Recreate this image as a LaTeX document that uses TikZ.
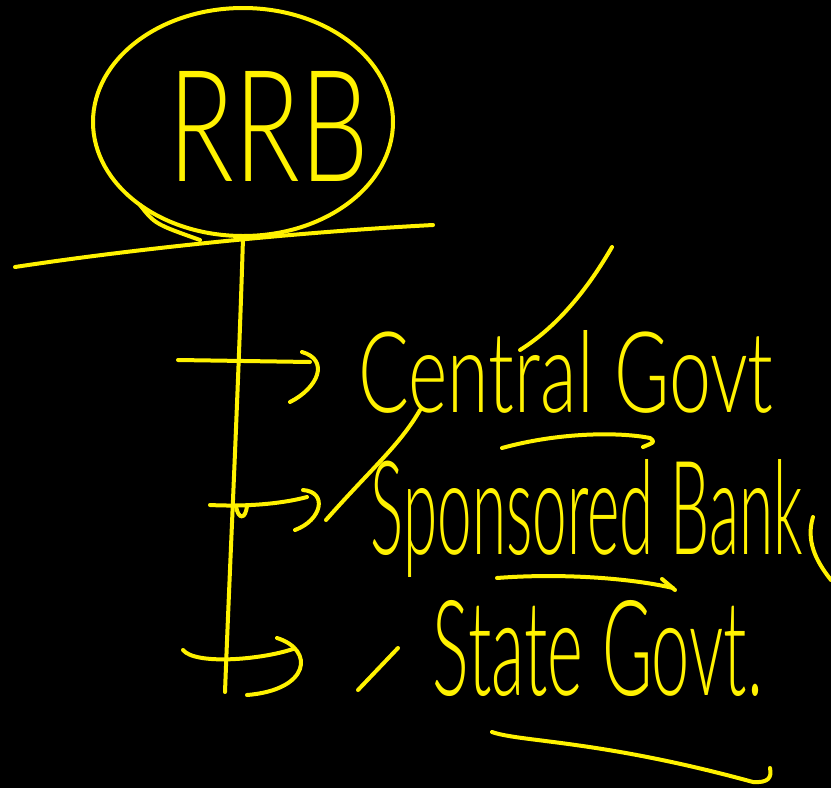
\documentclass[tikz,border=0pt]{standalone}
\usepackage{fontspec}
\setmainfont{Lato Light}
\usetikzlibrary{shapes.geometric}
\definecolor{penc}{RGB}{255,242,0}
\begin{document}
\begin{tikzpicture}[x=1pt,y=-1pt,
  pen/.style={draw=penc, line width=4pt, line cap=round, line join=round},
  hand/.style={text=penc, inner sep=0pt}]
\fill[black] (0,0) rectangle (831,788);
\useasboundingbox (0,0) rectangle (831,788);
% RRB
\node[pen, ellipse, minimum width=300pt, minimum height=228pt, inner sep=0pt] (rrb) at (243,122) {};
\node[hand] (rrbtext) at (269,126) {\resizebox{200pt}{110pt}{RRB}};
\draw[pen] (140,205) .. controls (155,224) .. (200,240);
% horizontal stroke
\coordinate (hl) at (15,267);
\coordinate (hr) at (433,225);
\draw[pen] (hl) .. controls (140,248) and (300,232) .. (hr);
% vertical stem
\coordinate (vb) at (225,692);
\draw[pen] (rrb.south) .. controls (238,400) and (230,560) .. (vb);
% labels
\node[hand] (central) at (566,372) {\resizebox{415pt}{82pt}{Central Govt}};
\node[hand] (sponsored) at (587,518) {\resizebox{432pt}{95pt}{Sponsored Bank}};
\node[hand] (state) at (598,648) {\resizebox{330pt}{95pt}{State Govt.}};
% arrow 1
\coordinate (a1s) at (178,360);
\coordinate (a1e) at (310,362);
\draw[pen] (a1s) -- (a1e);
\draw[pen] (302,352) .. controls (330,360) and (318,388) .. (290,402);
% arrow 2
\coordinate (a2s) at (210,505);
\coordinate (a2e) at (307,497);
\draw[pen] (a2s) .. controls (250,507) and (285,503) .. (a2e);
\draw[pen] (303,490) .. controls (328,492) and (322,520) .. (295,530);
\draw[pen] (236,506) .. controls (238,520) and (246,520) .. (247,505);
% arrow 3
\coordinate (a3s) at (183,650);
\coordinate (a3e) at (293,649);
\draw[pen] (a3s) .. controls (195,665) and (260,660) .. (a3e);
\draw[pen] (277,638) .. controls (315,650) and (310,690) .. (247,695);
% slashes
\draw[pen] (520,350) .. controls (560,325) and (590,285) .. (612,247);
\draw[pen] (326,520) .. controls (370,470) and (400,445) .. (420,410);
\draw[pen] (358,690) -- (398,648);
% underlines
\draw[pen] (502,448) .. controls (560,432) and (620,432) .. (650,438) .. controls (655,442) .. (643,447);
\draw[pen] (497,578) .. controls (560,573) and (630,578) .. (673,588);
\draw[pen] (662,579) -- (675,590);
\draw[pen] (492,732) .. controls (520,742) and (600,740) .. (753,782) .. controls (768,783) and (772,778) .. (770,768);
% right edge curve
\draw[pen] (813,517) .. controls (806,540) and (815,560) .. (831,580);
\end{tikzpicture}
\end{document}
